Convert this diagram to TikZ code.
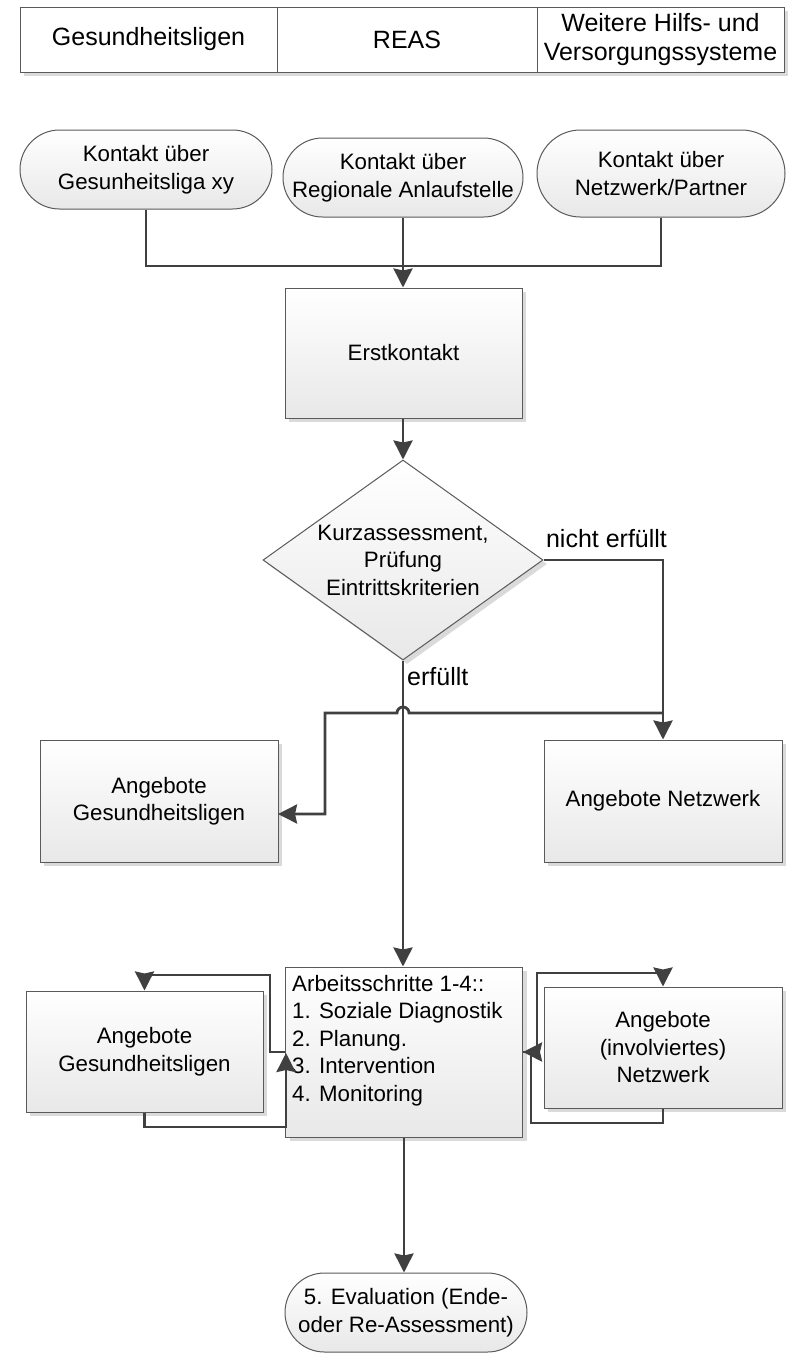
\documentclass[tikz,border=0pt]{standalone}
\usepackage{fontspec}
\setmainfont{Liberation Sans}
\usetikzlibrary{shapes.geometric,shapes.misc,shadows,arrows.meta}
\definecolor{ln}{HTML}{404040}
\definecolor{bd}{HTML}{5A5A5A}
\definecolor{sh}{HTML}{DADADA}
\begin{document}
\begin{tikzpicture}[x=1pt,y=1pt,
  nfont/.style={font=\fontsize{22.3}{27.5}\selectfont},
  box/.style={draw=bd, line width=1pt, top color=white, bottom color=black!9,
    drop shadow={shadow xshift=4pt,shadow yshift=-4pt,fill=sh,opacity=1},
    nfont, align=center, inner sep=0pt},
  term/.style={rounded rectangle, draw=bd, line width=1pt, top color=white, bottom color=black!9,
    nfont, align=center, inner sep=0pt},
  cell/.style={draw=bd, line width=1pt, fill=white,
    font=\fontsize{25}{29}\selectfont, align=center, inner sep=0pt},
  conn/.style={draw=ln, line width=2.8pt},
  arr/.style={conn, -{Stealth[length=19pt,width=19pt,inset=2pt]}},
  lbl/.style={font=\fontsize{25}{29}\selectfont, inner sep=0pt}]
\useasboundingbox (0,0) rectangle (792,-1353);
% table
\fill[sh] (24,-11) rectangle (788,-76);
\node[cell, minimum width=257pt, minimum height=65pt] (t1) at (148.5,-39.5) {Gesundheitsligen};
\node[cell, minimum width=260pt, minimum height=65pt] (t2) at (407,-39.5) {REAS};
\node[cell, minimum width=247pt, minimum height=65pt] (t3) at (660.5,-39.5) {Weitere Hilfs- und\\Versorgungssysteme};
% contact nodes
\node[term, minimum width=252pt, minimum height=79pt] (k1) at (146,-169.5) {Kontakt über\\Gesunheitsliga xy};
\node[term, minimum width=240pt, minimum height=79pt] (k2) at (403,-177.5) {Kontakt über\\Regionale Anlaufstelle};
\node[term, minimum width=248pt, minimum height=87pt] (k3) at (661,-173.5) {Kontakt über\\Netzwerk/Partner};
% boxes
\node[box, minimum width=237pt, minimum height=130pt] (er) at (403.5,-353) {Erstkontakt};
\node[box, shape=diamond, minimum width=280pt, minimum height=200pt] (d) at (403,-560) {};
\node[nfont, align=center, inner sep=0pt] (dt) at (403,-560) {Kurzassessment,\\Prüfung\\Eintrittskriterien};
\node[box, minimum width=238pt, minimum height=122pt] (ag1) at (159,-801) {Angebote\\Gesundheitsligen};
\node[box, minimum width=238pt, minimum height=122pt] (an1) at (663,-801) {Angebote Netzwerk};
\node[box, minimum width=237pt, minimum height=170pt] (ar) at (404,-1052) {};
\node[nfont, align=left, inner sep=0pt, anchor=north west] (art) at (292,-975)
  {Arbeitsschritte 1-4::\\1. Soziale Diagnostik\\2. Planung.\\3. Intervention\\4. Monitoring};
\node[box, minimum width=237pt, minimum height=121pt] (ag2) at (144.5,-1051.5) {Angebote\\Gesundheitsligen};
\node[box, minimum width=238pt, minimum height=121pt] (an2) at (663,-1047.5) {Angebote\\(involviertes)\\Netzwerk};
\node[term, minimum width=242pt, minimum height=79pt] (ev) at (406,-1312.5) {5. Evaluation (Ende-\\oder Re-Assessment)};
% labels
\node[lbl] (ne) at (606.5,-539) {nicht erfüllt};
\node[lbl, anchor=west] (ef) at (407,-677) {erfüllt};
% coordinates
\coordinate (mj) at (403,-266);
\coordinate (hr) at (663,-713);
\coordinate (hp) at (409,-713);
\coordinate (hl) at (325,-713);
\coordinate (hd) at (325,-814);
\coordinate (ain) at (278,-814);
\coordinate (lc) at (270,-975);
\coordinate (lb) at (286,-1127);
\coordinate (la) at (286,-1053);
\coordinate (rc) at (537,-973);
\coordinate (rb) at (531,-1123);
% connectors
\draw[conn] (k1.south) |- (mj);
\draw[conn] (k3.south) |- (mj);
\draw[arr] (k2.south) -- (k2.south |- er.north);
\draw[arr] (er.south -| d.north) -- (d.north);
\draw[arr] (d.east) -| (an1.north);
\draw[arr] (d.south) -- (d.south |- ar.north);
\draw[arr] (hr) -- (hp) arc[start angle=0,end angle=180,radius=6pt] -- (hl) -- (hd) -- (ain);
\draw[arr] (ar.west) -| (lc) -| (ag2.north);
\draw[arr] (ag2.south) |- (lb) -- (la);
\draw[arr] (ar.east) -| (rc) -| (an2.north);
\draw[arr] (an2.south) |- (rb) |- (ar.east);
\draw[arr] (ar.south) -- (ar.south |- ev.north);
\end{tikzpicture}
\end{document}
